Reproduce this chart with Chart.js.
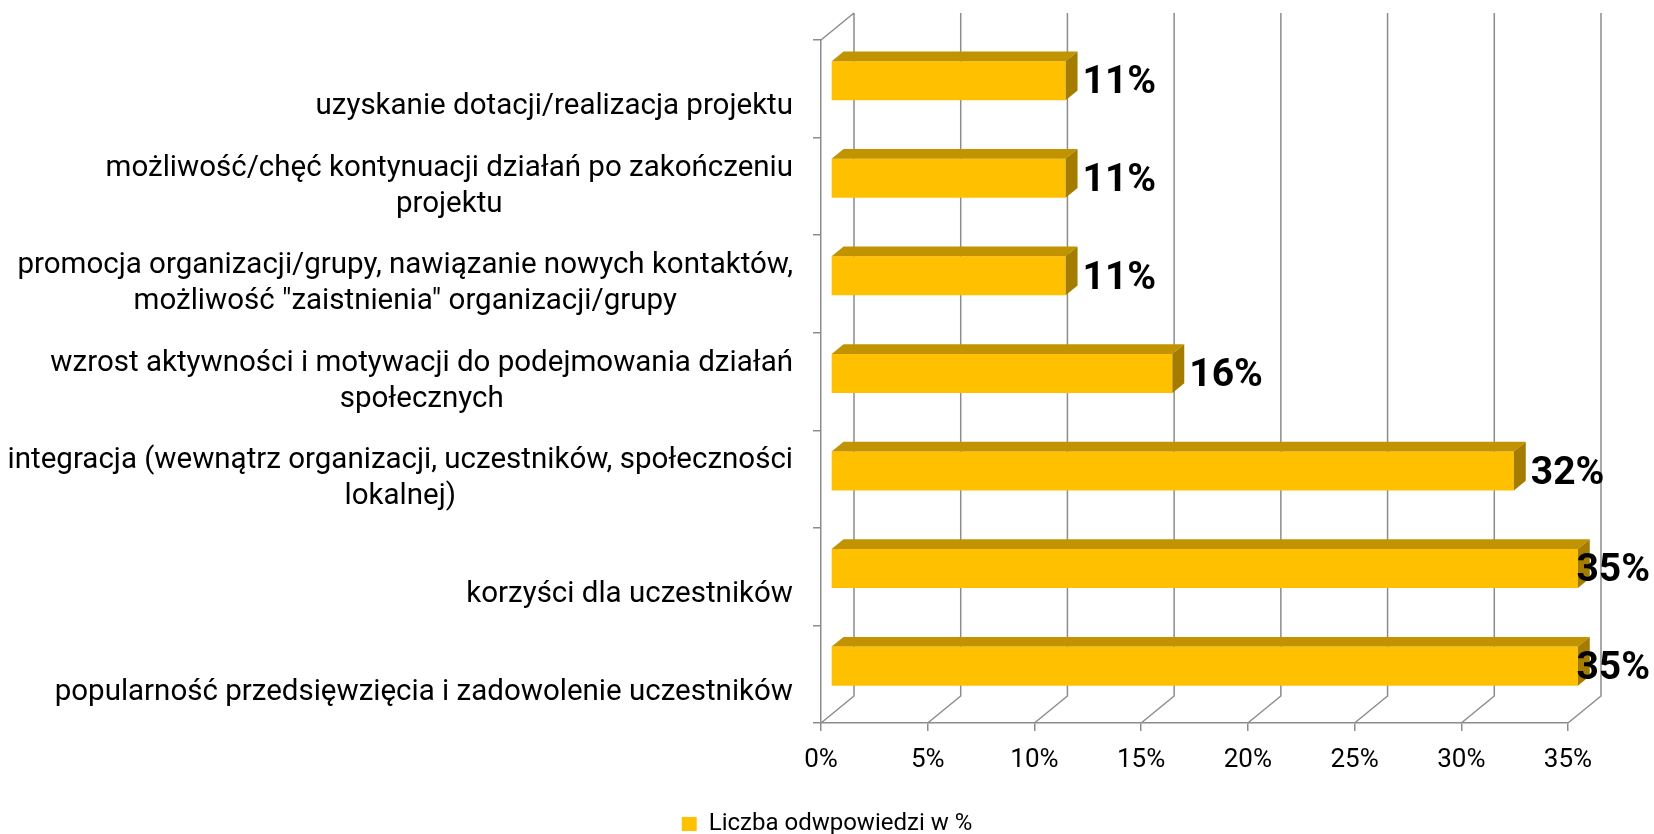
<!DOCTYPE html>
<html>
<head>
<meta charset="utf-8">
<title>Liczba odwpowiedzi w %</title>
<script src="https://cdn.jsdelivr.net/npm/chart.js@4.4.0/dist/chart.umd.min.js"></script>
<style>
    body { margin: 0; background: #fff; }
    #wrap { width: 1654px; height: 834px; }
</style>
</head>
<body>
<div id="wrap"><canvas id="myChart" width="1654" height="834"></canvas></div>
<script>
// categories from top to bottom, split in the lines they are shown on
const categories = [
    ["uzyskanie dotacji/realizacja projektu"],
    ["możliwość/chęć kontynuacji działań po zakończeniu", "projektu"],
    ["promocja organizacji/grupy, nawiązanie nowych kontaktów,", "możliwość \"zaistnienia\" organizacji/grupy"],
    ["wzrost aktywności i motywacji do podejmowania działań", "społecznych"],
    ["integracja (wewnątrz organizacji, uczestników, społeczności", "lokalnej)"],
    ["korzyści dla uczestników"],
    ["popularność przedsięwzięcia i zadowolenie uczestników"]
];
const answers = [11, 11, 11, 16, 32, 35, 35];
const seriesName = "Liczba odwpowiedzi w %";
const xTicks = [0, 5, 10, 15, 20, 25, 30, 35];

// look of the fake 3d box
const depth = {x: 33, y: -27};     // how far the back wall sits from the front
const barFront = 0.3, barBack = 0.66;  // bars sit between these parts of the depth
const gridColor = '#8c8c8c';
const barColor = '#FFC000', barTopColor = '#C29300', barSideColor = '#A47C00';

Chart.defaults.font.family = 'Roboto';
Chart.defaults.color = '#000';

const box3d = {
    id: 'box3d',
    beforeDatasetsDraw(chart) {
        const {ctx, chartArea: a, scales: {x}} = chart;
        ctx.save();
        ctx.strokeStyle = gridColor;
        ctx.lineWidth = 1.5;
        ctx.beginPath();
        x.ticks.forEach((t, i) => {
            const px = x.getPixelForTick(i);
            // line on the back wall, then down the floor to the front
            ctx.moveTo(px + depth.x, a.top + depth.y);
            ctx.lineTo(px + depth.x, a.bottom + depth.y);
            ctx.lineTo(px, a.bottom);
        });
        // top edge of the left wall
        ctx.moveTo(a.left, a.top);
        ctx.lineTo(a.left + depth.x, a.top + depth.y);
        ctx.stroke();
        ctx.restore();
        // the front of the bars is pushed into the box
        ctx.save();
        ctx.translate(depth.x * barFront, depth.y * barFront);
    },
    afterDatasetsDraw(chart) {
        const ctx = chart.ctx;
        const dx = depth.x * (barBack - barFront);
        const dy = depth.y * (barBack - barFront);
        const bars = chart.getDatasetMeta(0).data;
        bars.forEach(bar => {
            const {x, y, base, height} = bar.getProps(['x', 'y', 'base', 'height'], true);
            const top = y - height / 2, bot = y + height / 2;
            ctx.fillStyle = barTopColor;
            ctx.beginPath();
            ctx.moveTo(base, top); ctx.lineTo(x, top);
            ctx.lineTo(x + dx, top + dy); ctx.lineTo(base + dx, top + dy);
            ctx.closePath(); ctx.fill();
            ctx.fillStyle = barSideColor;
            ctx.beginPath();
            ctx.moveTo(x, top); ctx.lineTo(x + dx, top + dy);
            ctx.lineTo(x + dx, bot + dy); ctx.lineTo(x, bot);
            ctx.closePath(); ctx.fill();
        });
        ctx.restore();

        // value labels, kept inside the canvas on the right
        const fx = depth.x * barFront, fy = depth.y * barFront;
        ctx.save();
        ctx.font = 'bold 39px Roboto';
        ctx.fillStyle = '#000';
        ctx.textBaseline = 'middle';
        ctx.textAlign = 'left';
        bars.forEach((bar, i) => {
            const {x, y} = bar.getProps(['x', 'y'], true);
            const txt = Math.round(answers[i]) + '%';
            const w = ctx.measureText(txt).width;
            let lx = x + fx + dx + 5;
            if (lx + w > chart.width - 4) lx = chart.width - 4 - w;
            ctx.fillText(txt, lx, y + fy + 3);
        });
        ctx.restore();
    },
    afterDraw(chart) {
        // category labels: lines centred in a block that is right aligned
        const {ctx, scales: {y}} = chart;
        const lh = 36;
        const right = y.right - 28;
        ctx.save();
        ctx.font = '29.5px Roboto';
        ctx.fillStyle = '#000';
        ctx.textAlign = 'center';
        ctx.textBaseline = 'middle';
        categories.forEach((lines, i) => {
            const cy = y.getPixelForTick(i);
            const w = Math.max(...lines.map(l => ctx.measureText(l).width));
            lines.forEach((l, k) => {
                ctx.fillText(l, right - w / 2, cy + lh / 2 - (lines.length - 1 - k) * lh);
            });
        });
        ctx.restore();
    }
};

new Chart('myChart', {
    type: 'bar',
    data: {
        labels: categories.map(c => c.join(' ')),
        datasets: [{
            label: seriesName,
            data: answers,
            backgroundColor: barColor,
            borderWidth: 0,
            barPercentage: 0.4,
            categoryPercentage: 1,
            clip: false
        }]
    },
    options: {
        indexAxis: 'y',
        responsive: false,
        animation: false,
        layout: {padding: {top: 40, right: 0, left: 0, bottom: -12}},
        scales: {
            x: {
                min: xTicks[0],
                max: xTicks[xTicks.length - 1],
                afterBuildTicks: s => { s.ticks = xTicks.map(v => ({value: v})); },
                afterFit: s => { s.height = s.chart.height + 12 - s.chart.legend.height - 723; },
                grid: {drawOnChartArea: false, drawTicks: true, tickLength: 8, color: gridColor, lineWidth: 1.5},
                border: {display: true, color: gridColor, width: 1.5},
                ticks: {
                    padding: 14,
                    maxRotation: 0,
                    font: {size: 26},
                    color: '#000',
                    callback: v => v + '%'
                }
            },
            y: {
                afterFit: s => { s.width = 821; },
                grid: {drawOnChartArea: false, drawTicks: true, tickLength: 8, color: gridColor, lineWidth: 1.5},
                border: {display: true, color: gridColor, width: 1.5},
                ticks: {display: false}
            },
            // empty space on the right for the depth and the value labels
            yRight: {
                axis: 'y',
                position: 'right',
                afterFit: s => { s.width = 86; },
                grid: {display: false},
                border: {display: false},
                ticks: {display: false}
            }
        },
        plugins: {
            legend: {
                position: 'bottom',
                labels: {boxWidth: 15, boxHeight: 14, padding: 10, font: {size: 24}, color: '#000'}
            },
            tooltip: {enabled: false}
        }
    },
    plugins: [box3d]
});
</script>
</body>
</html>
